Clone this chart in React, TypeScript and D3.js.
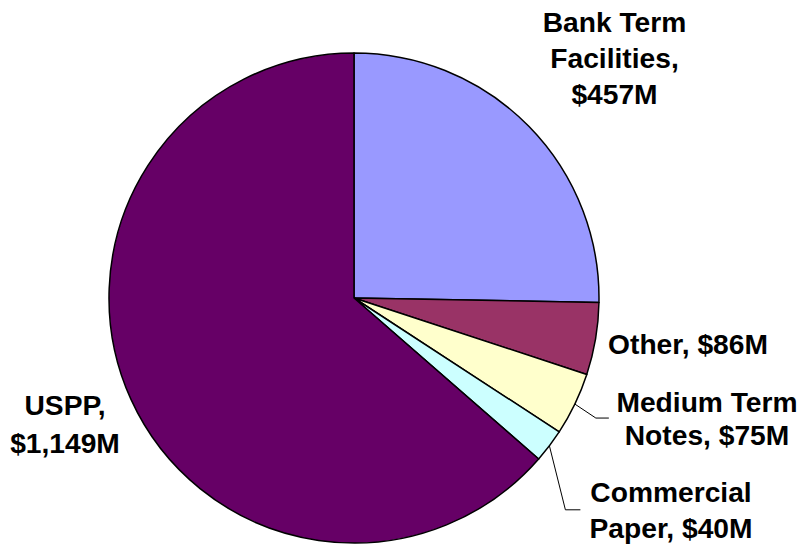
import React from "react";
import * as d3 from "d3";

const categories = ["Bank Term Facilities", "Other", "Medium Term Notes", "Commercial Paper", "USPP"];
const values = [457, 86, 75, 40, 1149];
const colors = ["#9999FF", "#993366", "#FFFFCC", "#CCFFFF", "#660066"];
const labelLines = [
  ["Bank Term", "Facilities,", "$457M"],
  ["Other, $86M"],
  ["Medium Term", "Notes, $75M"],
  ["Commercial", "Paper, $40M"],
  ["USPP,", "$1,149M"],
];

const W = 804;
const H = 546;
const cx = 354;
const cy = 298;
const R = 245;

// label anchor: text centre x, baselines of each line
const labelPos: [number, number[]][] = [
  [614.5, [32, 68, 104]],
  [688, [354]],
  [707, [412, 445]],
  [671, [502, 538]],
  [65, [415, 453]],
];

export default function App() {
  const pie = d3
    .pie<number>()
    .sort(null)
    .value((d) => d)
    .startAngle(0)
    .endAngle(2 * Math.PI);
  const arcs = pie(values);
  const arc = d3.arc<d3.PieArcDatum<number>>().innerRadius(0).outerRadius(R);

  // leader lines for the two narrow slices
  const leader = (i: number, dx: number, dy: number, run: number) => {
    const a = arcs[i];
    const mid = (a.startAngle + a.endAngle) / 2;
    const x0 = cx + Math.sin(mid) * R;
    const y0 = cy - Math.cos(mid) * R;
    const x1 = x0 + dx;
    const y1 = y0 + dy;
    return `M${x0},${y0}L${x1},${y1}L${x1 + run},${y1}`;
  };

  return (
    <svg
      width={W}
      height={H}
      style={{ position: "absolute", left: 0, top: 0, background: "#fff" }}
      fontFamily="'Liberation Sans', Arial, sans-serif"
    >
      <g transform={`translate(${cx},${cy})`}>
        {arcs.map((a, i) => (
          <path
            key={categories[i]}
            d={arc(a) || ""}
            fill={colors[i]}
            stroke="#000"
            strokeWidth={1.5}
            strokeLinejoin="round"
          />
        ))}
      </g>
      <path d={leader(2, 21, 14, 13)} fill="none" stroke="#000" strokeWidth={1} />
      <path d={leader(3, 16, 64, 15)} fill="none" stroke="#000" strokeWidth={1} />
      {labelLines.map((lines, i) => (
        <text
          key={categories[i]}
          textAnchor="middle"
          fontSize={28.2}
          fontWeight="bold"
          fill="#000"
        >
          {lines.map((t, j) => (
            <tspan key={j} x={labelPos[i][0]} y={labelPos[i][1][j]}>
              {t}
            </tspan>
          ))}
        </text>
      ))}
    </svg>
  );
}
